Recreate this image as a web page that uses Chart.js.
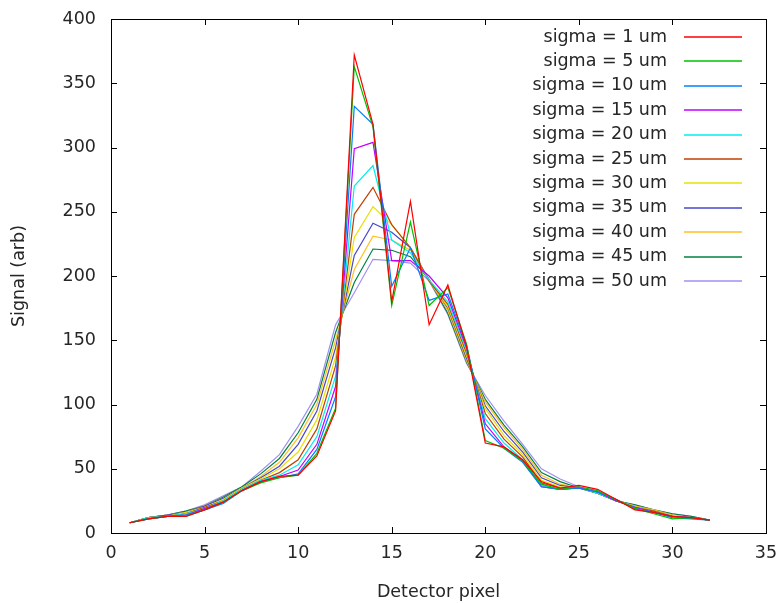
<!DOCTYPE html>
<html>
<head>
<meta charset="utf-8">
<script src="https://cdn.jsdelivr.net/npm/chart.js@4.4.1/dist/chart.umd.min.js"></script>
<style>
  html, body { margin: 0; padding: 0; background: #fff; }
  canvas { display: block; }
</style>
</head>
<body>
<canvas id="chart" width="780" height="603"></canvas>
<script>
// Detector pixel positions
const pixels = [1, 2, 3, 4, 5, 6, 7, 8, 9, 10, 11, 12, 13, 14, 15, 16,
                17, 18, 19, 20, 21, 22, 23, 24, 25, 26, 27, 28, 29, 30, 31, 32];

const seriesLabels = ['sigma = 1 um', 'sigma = 5 um', 'sigma = 10 um', 'sigma = 15 um',
  'sigma = 20 um', 'sigma = 25 um', 'sigma = 30 um', 'sigma = 35 um',
  'sigma = 40 um', 'sigma = 45 um', 'sigma = 50 um'];

// Signal values
const sigma1  = [8, 11, 13, 13, 18, 24, 33, 40, 44, 45, 60, 95, 372, 318, 180, 258, 162, 193, 145, 70, 67, 57, 40, 35, 37, 34, 26, 18, 16, 13, 12, 10];
const sigma5  = [8, 11, 13, 13, 18, 24, 33, 39, 43, 45, 62, 97, 363, 316, 177, 242, 177, 191, 147, 72, 66, 56, 38, 34, 36, 33, 26, 19, 15, 11, 12, 10];
const sigma10 = [8, 11, 13, 14, 18, 23, 33, 40, 43, 46, 65, 106, 332, 318, 192, 222, 181, 186, 146, 81, 66, 55, 36, 34, 35, 32, 26, 19, 16, 12, 11, 10];
const sigma15 = [8, 11, 13, 14, 19, 24, 33, 40, 44, 49, 69, 114, 299, 304, 212, 212, 200, 183, 144, 85, 67, 56, 36, 34, 35, 32, 25, 20, 16, 13, 12, 10];
const sigma20 = [8, 12, 13, 15, 19, 25, 34, 41, 45, 53, 75, 122, 270, 286, 228, 218, 197, 180, 142, 89, 70, 57, 37, 34, 35, 31, 25, 20, 16, 13, 12, 10];
const sigma25 = [8, 12, 13, 15, 20, 25, 34, 41, 47, 57, 81, 130, 248, 269, 240, 222, 196, 178, 140, 93, 73, 59, 39, 35, 35, 31, 25, 20, 17, 13, 12, 10];
const sigma30 = [8, 12, 13, 16, 20, 26, 35, 42, 50, 63, 88, 137, 230, 254, 240, 222, 196, 176, 138, 97, 76, 61, 41, 36, 35, 31, 25, 21, 17, 14, 12, 10];
const sigma35 = [8, 12, 14, 16, 21, 27, 35, 43, 52, 69, 95, 144, 216, 241, 234, 222, 197, 175, 136, 99, 79, 63, 43, 37, 35, 31, 25, 21, 17, 14, 12, 10];
const sigma40 = [8, 12, 14, 16, 21, 27, 35, 44, 55, 74, 100, 150, 205, 231, 228, 220, 197, 173, 134, 102, 82, 65, 45, 38, 35, 31, 25, 21, 18, 14, 12, 10];
const sigma45 = [8, 12, 14, 17, 21, 28, 36, 46, 58, 78, 104, 156, 195, 221, 220, 215, 197, 171, 133, 104, 84, 67, 47, 40, 35, 31, 25, 22, 18, 15, 13, 10];
const sigma50 = [8, 12, 14, 17, 22, 29, 36, 48, 61, 83, 108, 162, 187, 213, 212, 210, 196, 170, 132, 107, 87, 69, 50, 42, 36, 31, 25, 22, 18, 15, 13, 10];

const allSeries = [sigma1, sigma5, sigma10, sigma15, sigma20, sigma25, sigma30, sigma35, sigma40, sigma45, sigma50];
const colors = ['#ff0000', '#00c000', '#0080ff', '#c000ff', '#00eeee', '#c04000',
                '#e8e000', '#4848c8', '#ffc020', '#008040', '#a090f0'];

const FONT = "'DejaVu Sans', sans-serif";
const FSIZE = 17.5;
const TEXT = '#262626';

// gnuplot style frame, mirrored inside ticks and right-aligned key
const gnuplotFrame = {
    id: 'gnuplotFrame',
    afterDatasetsDraw(chart) {
        const {ctx, chartArea: a, scales} = chart;
        ctx.save();
        ctx.strokeStyle = '#000';
        ctx.lineWidth = 1;
        ctx.beginPath();
        const tick = 6;
        scales.x.ticks.forEach(t => {
            const px = Math.round(scales.x.getPixelForValue(t.value)) + 0.5;
            ctx.moveTo(px, a.bottom); ctx.lineTo(px, a.bottom - tick);
            ctx.moveTo(px, a.top); ctx.lineTo(px, a.top + tick);
        });
        scales.y.ticks.forEach(t => {
            const py = Math.round(scales.y.getPixelForValue(t.value)) + 0.5;
            ctx.moveTo(a.left, py); ctx.lineTo(a.left + tick, py);
            ctx.moveTo(a.right, py); ctx.lineTo(a.right - tick, py);
        });
        ctx.stroke();
        ctx.strokeRect(Math.round(a.left) + 0.5, Math.round(a.top) + 0.5,
                       Math.round(a.right - a.left), Math.round(a.bottom - a.top));

        // key
        ctx.font = FSIZE + 'px ' + FONT;
        ctx.textAlign = 'right';
        ctx.textBaseline = 'middle';
        ctx.lineWidth = 1.3;
        chart.data.datasets.forEach((ds, i) => {
            const y = a.top + 18 + i * 24.4;
            ctx.fillStyle = TEXT;
            ctx.fillText(ds.label, a.right - 99, y);
            ctx.strokeStyle = ds.borderColor;
            ctx.beginPath();
            ctx.moveTo(a.right - 82, Math.round(y));
            ctx.lineTo(a.right - 24, Math.round(y));
            ctx.stroke();
        });
        ctx.restore();
    }
};

const datasets = allSeries.map((s, i) => ({
    label: seriesLabels[i],
    data: pixels.map((p, j) => ({x: p, y: s[j]})),
    borderColor: colors[i],
    backgroundColor: colors[i],
    borderWidth: 1.2,
    pointRadius: 0,
    tension: 0,
    fill: false
}));

new Chart(document.getElementById('chart').getContext('2d'), {
    type: 'line',
    data: { datasets },
    plugins: [gnuplotFrame],
    options: {
        responsive: false,
        animation: false,
        devicePixelRatio: 1,
        layout: { padding: { top: 19, right: 14, left: 0, bottom: 0 } },
        plugins: {
            legend: { display: false },
            tooltip: { enabled: false }
        },
        scales: {
            x: {
                type: 'linear',
                min: 0,
                max: 35,
                afterFit: s => { s.height = 70; s.paddingLeft = 0; s.paddingRight = 0; },
                ticks: { stepSize: 5, padding: 10, color: TEXT, font: { family: FONT, size: FSIZE }, maxRotation: 0 },
                grid: { display: false, drawTicks: false },
                border: { display: false },
                title: { display: true, text: 'Detector pixel', color: TEXT,
                         font: { family: FONT, size: FSIZE }, padding: { top: 0, bottom: 0 } }
            },
            y: {
                min: 0,
                max: 400,
                afterFit: s => { s.width = 111; s.paddingTop = 0; s.paddingBottom = 0; },
                ticks: { stepSize: 50, padding: 15, color: TEXT, font: { family: FONT, size: FSIZE } },
                grid: { display: false, drawTicks: false },
                border: { display: false },
                title: { display: true, text: 'Signal (arb)', color: TEXT,
                         font: { family: FONT, size: FSIZE }, padding: { top: 9, bottom: 0 } }
            }
        }
    }
});
</script>
</body>
</html>
